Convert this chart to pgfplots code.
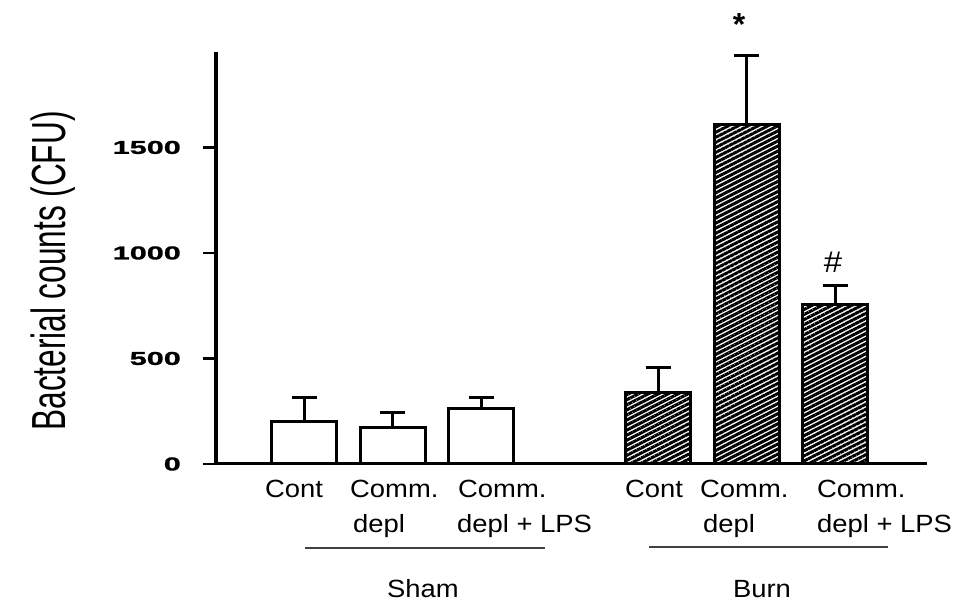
\documentclass[border=0pt]{standalone}
\usepackage{pgfplots}
\pgfplotsset{compat=1.18}
\usepackage{fontspec}
\setmainfont{Liberation Sans}
\newfontfamily\tickfont[FakeStretch=1.65, FakeBold=1.5]{Liberation Sans}
\newfontfamily\ylabfont[FakeStretch=0.66]{Liberation Sans}
\newfontfamily\lblfont[FakeStretch=1.1]{Liberation Sans}
\usetikzlibrary{patterns.meta}
\begin{document}
\begin{tikzpicture}[x=1bp,y=1bp]
\useasboundingbox (0,0) rectangle (963,603);
\begin{axis}[
  at={(216bp,139bp)}, anchor=south west,
  scale only axis, width=711bp, height=411.5bp,
  xmin=-1, xmax=7.04, ymin=0, ymax=1950,
  axis x line=bottom, axis y line=left,
  x axis line style={-, line width=3bp},
  y axis line style={-, line width=3.5bp},
  xtick=\empty,
  ytick={0,500,1000,1500}, yticklabels={0,500,1000,1500},
  tick align=outside, major tick length=13bp,
  ytick style={line width=2.5bp, black},
  yticklabel style={font=\fontsize{18.6}{20}\tickfont\bfseries, inner sep=0pt, xshift=-22bp},
  clip=false,
]
\addplot[ybar, bar width=65bp, bar shift=0pt, fill=white, draw=black, line width=3bp,
  error bars/.cd, y dir=plus, y explicit,
  error bar style={line width=3bp, black},
  error mark options={rotate=90, mark size=12.5bp, line width=3bp, black}]
  coordinates {(0,199) +- (0,114) (1,175) +- (0,67) (2,261) +- (0,52)};
\addplot[ybar, bar width=65bp, bar shift=0pt, fill=white, draw=black, line width=3bp,
  postaction={pattern={Lines[angle=27, distance=4.5bp, line width=3bp]}, pattern color=black},
  error bars/.cd, y dir=plus, y explicit,
  error bar style={line width=3bp, black},
  error mark options={rotate=90, mark size=12.5bp, line width=3bp, black}]
  coordinates {(4,341) +- (0,114) (5,1611) +- (0,323) (6,758) +- (0,86)};
\end{axis}
% significance marks
\node[anchor=north, inner sep=0pt, font=\fontsize{32}{32}\selectfont\bfseries] at (739,590) {*};
\node[anchor=north, inner sep=0pt, font=\fontsize{30}{30}\lblfont] at (833,351) {\#};
% y label
\node[rotate=90, anchor=base, inner sep=0pt, font=\fontsize{48}{56}\ylabfont] at (65,332) {Bacterial counts (CFU)};
% category labels
\begin{scope}[every node/.style={anchor=base west, inner sep=0pt, font=\fontsize{25}{30}\lblfont}]
\node at (265,105) {Cont};
\node at (350,105) {Comm.};
\node at (353,70) {depl};
\node at (458,105) {Comm.};
\node at (457,70) {depl + LPS};
\node at (625,105) {Cont};
\node at (700,105) {Comm.};
\node at (703,70) {depl};
\node at (817,105) {Comm.};
\node at (817,70) {depl + LPS};
\end{scope}
\draw[line width=1.5bp, black!75] (305,55) -- (545,55);
\draw[line width=1.5bp, black!75] (649,56) -- (888,56);
\node[anchor=base, inner sep=0pt, font=\fontsize{25}{30}\lblfont] at (423,5) {Sham};
\node[anchor=base, inner sep=0pt, font=\fontsize{25}{30}\lblfont] at (762,5) {Burn};
\end{tikzpicture}
\end{document}
